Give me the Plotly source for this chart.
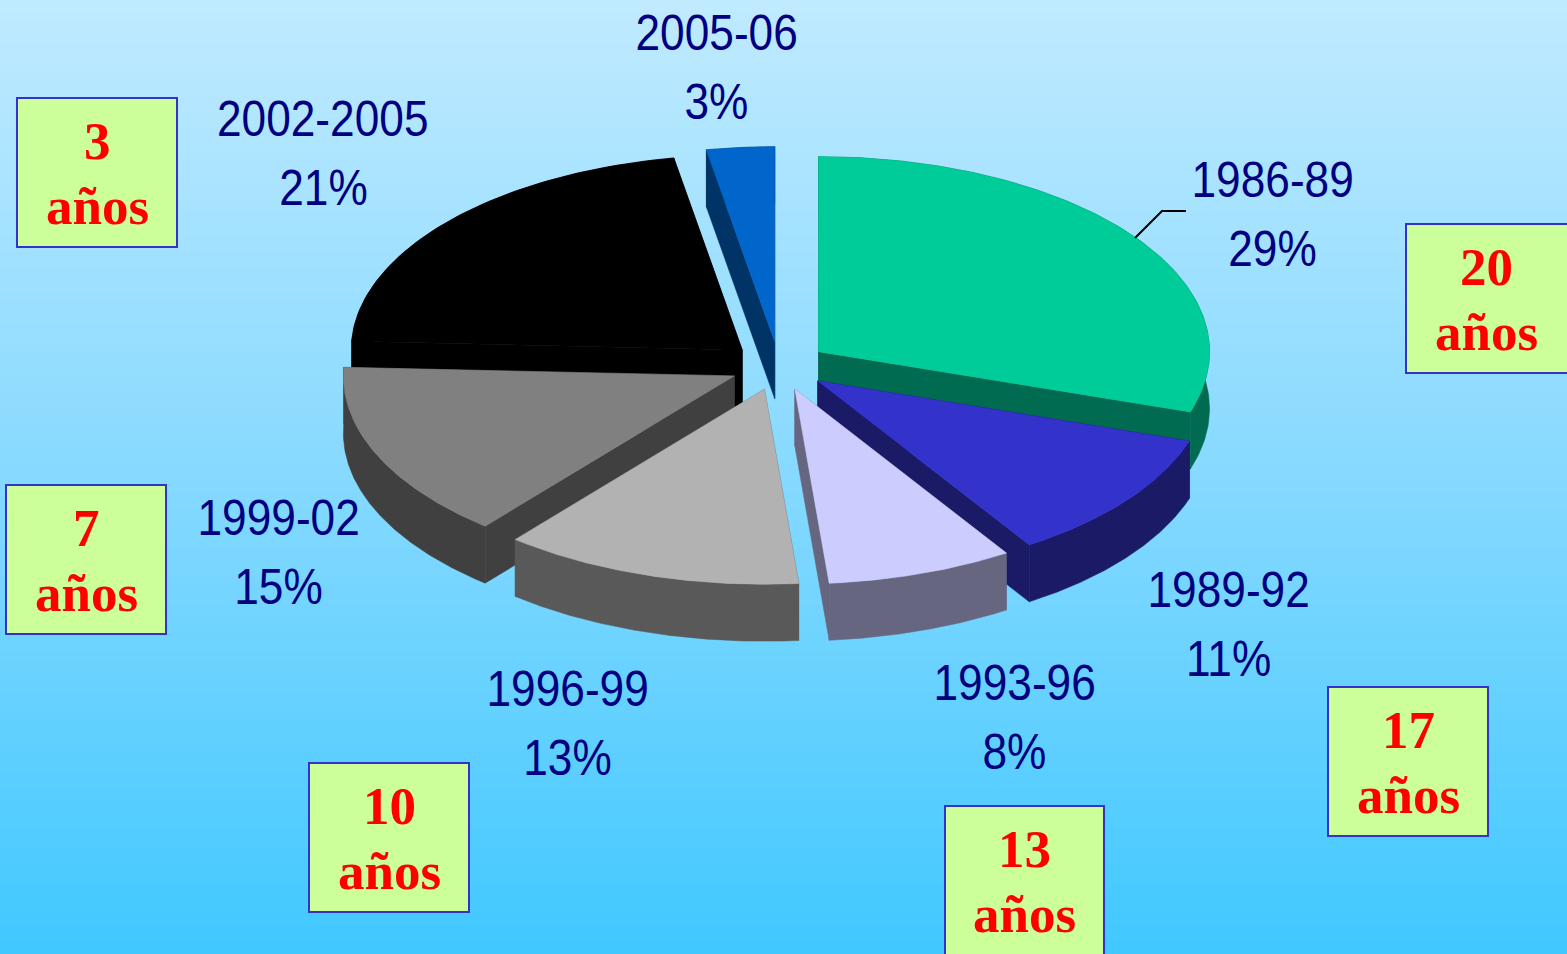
import numpy as np
import plotly.graph_objects as go

periods = ["1986-89", "1989-92", "1993-96", "1996-99", "1999-02", "2002-2005", "2005-06"]
shares = [29, 11, 8, 13, 15, 21, 3]                     # printed labels
drawn_shares = [30.0, 10.9, 7.7, 12.4, 14.7, 21.5, 2.8]  # slice sizes
years_labels = ["20", "17", "13", "10", "7", "3"]

top_colors = ["#00CC99", "#3333CC", "#CCCCFF", "#B2B2B2", "#808080", "#000000", "#0066CC"]
wall_colors = ["#006B50", "#1A1A66", "#666680", "#595959", "#404040", "#000000", "#003366"]

# pie geometry, in page pixels
CX, CY, RX, RY, DEPTH, EXPLODE = 779, 366, 391, 195, 57, 0.125
W, H = 1567, 954
LABEL_POS = [(1272, 214), (1228, 624), (1014, 717), (567, 723), (278, 552), (323, 153), (716, 67)]
BOX_POS = [(1406, 224, 1575, 373), (1328, 687, 1488, 836), (945, 806, 1104, 960),
           (309, 763, 469, 912), (6, 485, 166, 634), (17, 98, 177, 247)]

fig = go.Figure()
fig.add_trace(go.Heatmap(
    x=[0, W], y=[0, H], z=[[0, 0], [1, 1]], zsmooth="best", showscale=False, hoverinfo="skip",
    colorscale=[[0, "#C0EAFF"], [0.5, "#86D9FF"], [1, "#40C8FF"]],
))

def pt(theta, ax, ay):
    return ax + RX * np.sin(theta), ay - RY * np.cos(theta)

def poly(xs, ys, color):
    fig.add_trace(go.Scatter(
        x=list(xs), y=list(ys), mode="lines", fill="toself", fillcolor=color,
        line=dict(color=color, width=0.5), hoverinfo="skip", showlegend=False,
    ))

fracs = np.array(drawn_shares) / sum(drawn_shares)
edges = np.concatenate([[0], np.cumsum(fracs)]) * 2 * np.pi
for i in [0, 6, 5, 4, 3, 1, 2]:
    a0, a1 = edges[i], edges[i + 1]
    mid = (a0 + a1) / 2
    ax = CX + EXPLODE * RX * np.sin(mid)
    ay = CY - EXPLODE * RY * np.cos(mid)
    t = np.linspace(a0, a1, 120)
    ex, ey = pt(t, ax, ay)
    x0, y0 = pt(a0, ax, ay)
    x1, y1 = pt(a1, ax, ay)
    poly([ax, x0, x0, ax, ax], [ay, y0, y0 + DEPTH, ay + DEPTH, ay], wall_colors[i])
    poly([ax, x1, x1, ax, ax], [ay, y1, y1 + DEPTH, ay + DEPTH, ay], wall_colors[i])
    poly(np.r_[ex, ex[::-1]], np.r_[ey, ey[::-1] + DEPTH], wall_colors[i])
    poly(np.r_[ax, ex, ax], np.r_[ay, ey, ay], top_colors[i])

# leader line for the first slice
fig.add_trace(go.Scatter(x=[1186, 1162, 1135], y=[211, 211, 238], mode="lines",
                         line=dict(color="#000000", width=2), hoverinfo="skip", showlegend=False))

annotations = []
for name, s, (x, y) in zip(periods, shares, LABEL_POS):
    annotations.append(dict(
        x=x, y=y, xref="x", yref="y", showarrow=False,
        text=f"{name}", yshift=34.5,
        font=dict(family="Liberation Sans", size=50.5, color="#000080"),
    ))
    annotations.append(dict(
        x=x, y=y, xref="x", yref="y", showarrow=False,
        text=f"{s}%", yshift=-34.5,
        font=dict(family="Liberation Sans", size=50.5, color="#000080"),
    ))

shapes = []
red = dict(family="Liberation Serif", size=53, color="#FF0000")
for lab, (x0, y0, x1, y1) in zip(years_labels, BOX_POS):
    shapes.append(dict(type="rect", x0=x0, y0=y0, x1=x1, y1=y1, xref="x", yref="y", layer="above",
                       fillcolor="#CCFF99", line=dict(color="#3333CC", width=2)))
    cx = (x0 + min(x1, x0 + 160)) / 2
    annotations.append(dict(x=cx, y=y0 + 43, xref="x", yref="y", showarrow=False,
                            text=f"<b>{lab}</b>", font=red))
    annotations.append(dict(x=cx, y=y0 + 107.5, xref="x", yref="y", showarrow=False,
                            text="<b>años</b>", font=red))

fig.update_layout(
    width=W, height=H, margin=dict(l=0, r=0, t=0, b=0), showlegend=False,
    paper_bgcolor="#80D8FF", plot_bgcolor="rgba(0,0,0,0)",
    xaxis=dict(range=[0, W], visible=False, fixedrange=True),
    yaxis=dict(range=[H, 0], visible=False, fixedrange=True),
    shapes=shapes, annotations=annotations,
)

# The reference's blue labels use a narrow Arial; no narrow face is installed, so condense the real text.
post = """
document.body.style.margin='0';document.body.style.overflow='hidden';
function narrow(){
  document.querySelectorAll('text.annotation-text').forEach(function(el){
    if ((el.style.fontFamily||'').indexOf('Sans')>=0){
      el.style.transformBox='fill-box';
      el.style.transformOrigin='center';
      el.style.transform='scaleX(0.876)';
    }
  });
}
narrow();setTimeout(narrow,0);setTimeout(narrow,200);
"""
fig.write_html("out.html", post_script=post, config={"displayModeBar": False})
